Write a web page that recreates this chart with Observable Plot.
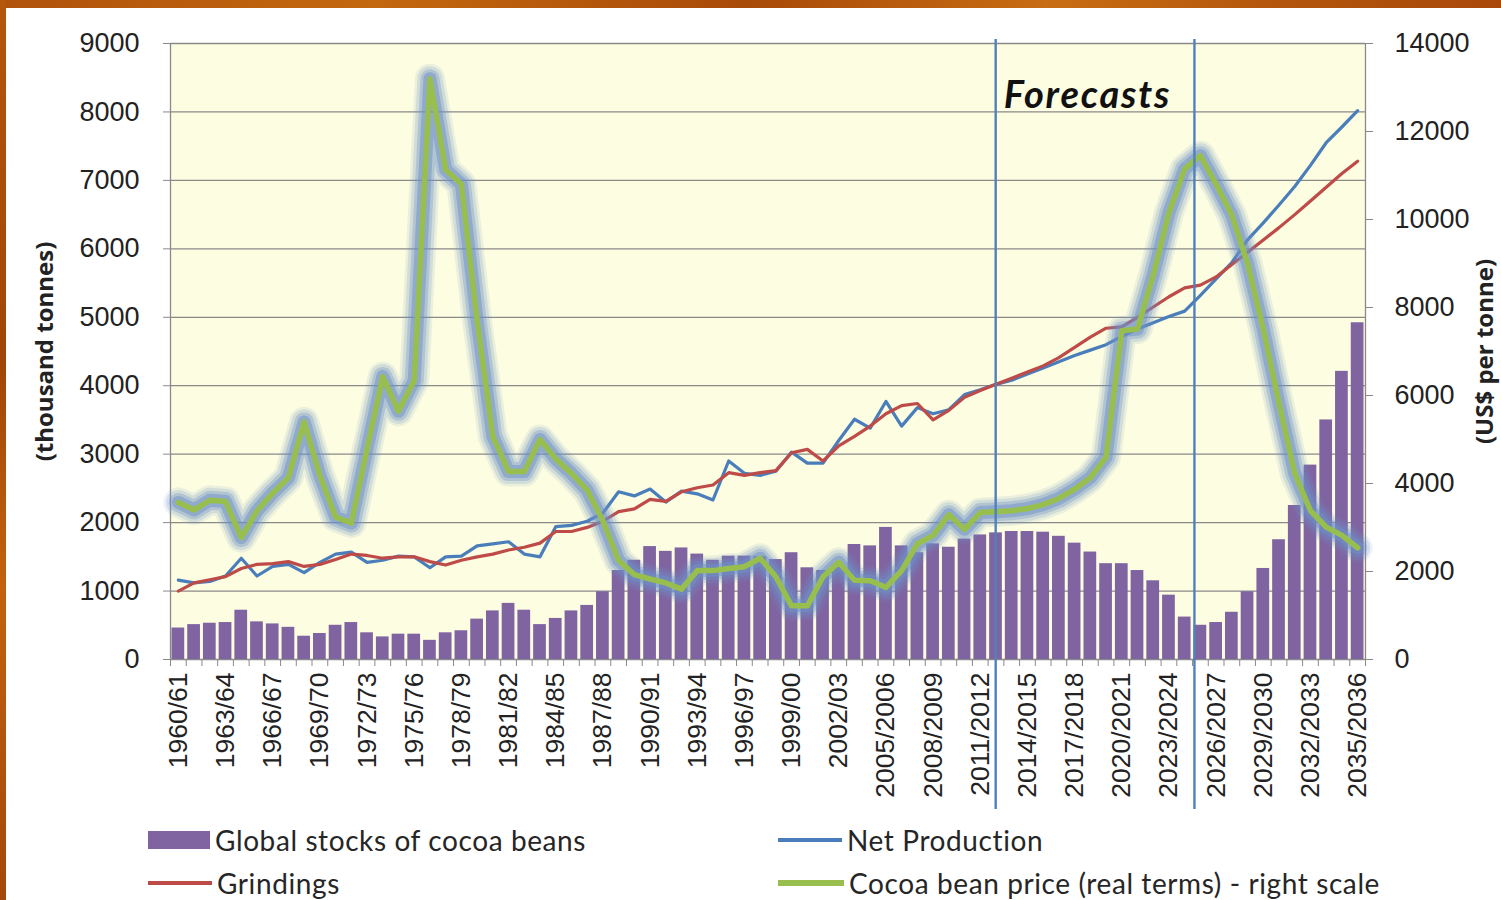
<!DOCTYPE html>
<html>
<head>
<meta charset="utf-8">
<script src="https://cdn.jsdelivr.net/npm/d3@7"></script>
<script src="https://cdn.jsdelivr.net/npm/@observablehq/plot@0.6"></script>
<style>
  html, body { margin: 0; padding: 0; background: #ffffff; }
  body { width: 1501px; height: 900px; position: relative; overflow: hidden; }
  #chart { position: absolute; left: 0; top: 0; }
  #frameTop { position: absolute; left: 0; top: 0; width: 1501px; height: 8px;
    background: linear-gradient(90deg, #b0520b 0%, #c4680f 25%, #a84a08 50%, #c86d13 70%, #b4560c 85%, #a9470a 100%); }
  #frameLeft { position: absolute; left: 0; top: 0; width: 6px; height: 900px;
    background: linear-gradient(180deg, #b5560c 0%, #a14508 40%, #c2620f 65%, #a4470a 100%); }
  .legend { position: absolute; font-family: Lato, "Open Sans", sans-serif; font-size: 28px; letter-spacing: 0.6px; color: #262626;
    display: flex; align-items: center; white-space: nowrap; height: 32px; }
  .legend .sw { display: inline-block; margin-right: 5px; }
</style>
</head>
<body>
<div id="chart"></div>
<div id="frameTop"></div>
<div id="frameLeft"></div>
<div id="legend"></div>
<script>
// ---------------- data ----------------
const categories = [
  "1960/61","1961/62","1962/63","1963/64","1964/65","1965/66","1966/67","1967/68","1968/69","1969/70",
  "1970/71","1971/72","1972/73","1973/74","1974/75","1975/76","1976/77","1977/78","1978/79","1979/80",
  "1980/81","1981/82","1982/83","1983/84","1984/85","1985/86","1986/87","1987/88","1988/89","1989/90",
  "1990/91","1991/92","1992/93","1993/94","1994/95","1995/96","1996/97","1997/98","1998/99","1999/00",
  "2000/01","2001/02","2002/03","2003/04","2004/05","2005/2006","2006/2007","2007/2008","2008/2009","2009/2010",
  "2010/2011","2011/2012","2012/2013","2013/2014","2014/2015","2015/2016","2016/2017","2017/2018","2018/2019","2019/2020",
  "2020/2021","2021/2022","2022/2023","2023/2024","2024/2025","2025/2026","2026/2027","2027/2028","2028/2029","2029/2030",
  "2030/2031","2031/2032","2032/2033","2033/2034","2034/2035","2035/2036"
];

// Global stocks of cocoa beans (thousand tonnes)
const stocks = [
  460, 510, 530, 540, 720, 550, 520, 470, 340, 380,
  500, 540, 390, 330, 370, 370, 280, 390, 420, 590,
  710, 820, 720, 510, 600, 710, 790, 990, 1300, 1450,
  1650, 1580, 1630, 1540, 1450, 1510, 1510, 1500, 1460, 1560,
  1340, 1300, 1380, 1680, 1660, 1930, 1660, 1560, 1690, 1640,
  1760, 1820, 1850, 1870, 1870, 1860, 1800, 1700, 1570, 1400,
  1400, 1300, 1150, 940, 620, 500, 540, 690, 990, 1330,
  1750, 2250, 2840, 3500, 4210, 4920
];

// Net Production (thousand tonnes)
const production = [
  1160, 1120, 1140, 1220, 1480, 1220, 1360, 1390, 1270, 1420,
  1540, 1570, 1420, 1450, 1510, 1500, 1340, 1500, 1510, 1660,
  1690, 1720, 1540, 1500, 1940, 1960, 2020, 2140, 2450, 2390,
  2490, 2300, 2460, 2420, 2330, 2900, 2720, 2690, 2750, 3030,
  2870, 2870, 3200, 3510, 3380, 3770, 3410, 3680, 3590, 3650,
  3870, 3940, 4020, 4080, 4170, 4260, 4350, 4440, 4520, 4600,
  4720, 4830, 4920, 5010, 5090, 5320, 5560, 5800, 6130, 6380,
  6640, 6910, 7220, 7550, 7780, 8020
];

// Grindings (thousand tonnes)
const grindings = [
  1000, 1120, 1165, 1210, 1330, 1390, 1400, 1430, 1360, 1390,
  1460, 1540, 1520, 1480, 1500, 1500, 1430, 1380, 1450, 1500,
  1540, 1600, 1640, 1700, 1870, 1870, 1930, 2020, 2160, 2200,
  2340, 2310, 2450, 2510, 2550, 2730, 2690, 2730, 2760, 3020,
  3070, 2900, 3120, 3260, 3410, 3590, 3710, 3740, 3500, 3640,
  3830, 3930, 4020, 4110, 4200, 4290, 4410, 4560, 4710, 4840,
  4860, 5000, 5150, 5300, 5430, 5470, 5590, 5770, 5950, 6130,
  6310, 6500, 6700, 6900, 7100, 7280
];

// Cocoa bean price, real terms (US$ per tonne) - right scale
const price = [
  3570, 3400, 3620, 3590, 2770, 3380, 3780, 4130, 5400, 4180,
  3240, 3100, 4790, 6430, 5640, 6340, 13200, 11130, 10800, 7700,
  5070, 4270, 4270, 5000, 4560, 4230, 3850, 3150, 2250, 1930,
  1830, 1740, 1600, 2020, 2020, 2070, 2110, 2300, 1880, 1220,
  1220, 1880, 2210, 1800, 1790, 1640, 2020, 2630, 2820, 3290,
  2960, 3340, 3360, 3380, 3430, 3520, 3660, 3870, 4130, 4600,
  7470, 7510, 8740, 10150, 11150, 11450, 10800, 10100, 9000, 7510,
  5820, 4230, 3380, 3010, 2820, 2540
];

const leftTicks = [0, 1000, 2000, 3000, 4000, 5000, 6000, 7000, 8000, 9000];
const rightTicks = [0, 2000, 4000, 6000, 8000, 10000, 12000, 14000];
const labelEvery = 3;
// forecast markers, in category units (index of category, fractional = between bands)
const forecastAt = [51.98, 64.62];
const forecastText = ["Forecasts"];
const leftTitle = ["(thousand tonnes)"];
const rightTitle = ["(US$ per tonne)"];
const legendItems = [
  {label: "Global stocks of cocoa beans", type: "bar", color: "#8064A2"},
  {label: "Net Production", type: "line", color: "#4A7EBB"},
  {label: "Grindings", type: "line", color: "#BE4B48"},
  {label: "Cocoa bean price (real terms) - right scale", type: "thick", color: "#98BF4E"}
];

// ---------------- chart ----------------
const leftMax = 9000, rightMax = 14000;
const k = leftMax / rightMax; // right-scale value -> left-scale units
const n = categories.length;
const idx = d3.range(n);
const data = idx.map(i => ({
  i, cat: categories[i], stocks: stocks[i], prod: production[i], grind: grindings[i], price: price[i] * k
}));
const labelIdx = idx.filter(i => i % labelEvery === 0);
const boundaries = d3.range(n + 1).map(i => i - 0.5);

const numFont = "'Liberation Sans', Arial, sans-serif";
const titleFont = "'Open Sans', Lato, sans-serif";
const gridColor = "#8a8a8a";
const glowColor = "#6D90C8";

const chart = Plot.plot({
  width: 1501,
  height: 820,
  marginLeft: 170,
  marginRight: 136,
  marginTop: 43,
  marginBottom: 161,
  x: {domain: [-0.5, n - 0.5], axis: null, label: null},
  y: {domain: [0, leftMax], axis: null, label: null},
  style: {fontFamily: numFont, background: "transparent", overflow: "visible", color: "#222"},
  marks: [
    Plot.frame({fill: "#FDFDE1", stroke: null}),
    Plot.gridY(leftTicks, {stroke: gridColor, strokeOpacity: 1, strokeWidth: 1.3}),
    Plot.ruleX([-0.5, n - 0.5], {stroke: gridColor, strokeWidth: 1.3}),
    Plot.rectY(data, {x1: d => d.i - 0.5, x2: d => d.i + 0.5, y: "stocks", fill: "#8064A2", insetLeft: 1.5, insetRight: 1.5}),
    Plot.line(data, {x: "i", y: "prod", stroke: "#4A7EBB", strokeWidth: 3.2}),
    Plot.line(data, {x: "i", y: "grind", stroke: "#BE4B48", strokeWidth: 3.2}),
    // soft bluish glow around the price line (stacked translucent strokes)
    Plot.line(data, {x: "i", y: "price", stroke: glowColor, strokeWidth: 30, strokeOpacity: 0.12}),
    Plot.line(data, {x: "i", y: "price", stroke: glowColor, strokeWidth: 25, strokeOpacity: 0.2}),
    Plot.line(data, {x: "i", y: "price", stroke: glowColor, strokeWidth: 19, strokeOpacity: 0.32}),
    Plot.line(data, {x: "i", y: "price", stroke: glowColor, strokeWidth: 13, strokeOpacity: 0.5}),
    Plot.line(data, {x: "i", y: "price", stroke: "#98BF4E", strokeWidth: 5.5}),
    Plot.ruleX(forecastAt, {stroke: "#4F81BD", strokeWidth: 2.4, insetTop: -4, insetBottom: -150}),
    Plot.text(forecastText, {x: forecastAt[0], y: leftMax, dx: 8, dy: 52, textAnchor: "start",
      fontSize: 38, fontWeight: "bold", fontStyle: "italic", fontFamily: "Lato, 'Open Sans', sans-serif", fill: "#111"}),
    // left axis
    Plot.axisY(leftTicks, {anchor: "left", label: null, tickSize: 7, tickPadding: 24, fontSize: 27,
      tickFormat: v => String(v), stroke: gridColor, fill: "#222"}),
    // right axis (price scale)
    Plot.axisY(rightTicks.map(v => v * k), {anchor: "right", label: null, tickSize: 7, tickPadding: 22, fontSize: 27,
      tickFormat: v => String(Math.round(v / k)), stroke: gridColor, fill: "#222"}),
    // x tick marks between categories
    Plot.axisX(boundaries, {anchor: "bottom", label: null, tickSize: 7, tickFormat: () => "", stroke: gridColor}),
    // x labels
    Plot.axisX(labelIdx, {anchor: "bottom", label: null, tickSize: 0, tickPadding: 13, tickRotate: -90, fontSize: 26.5,
      tickFormat: i => categories[i], fill: "#222"}),
    // axis titles
    Plot.text(leftTitle, {frameAnchor: "left", textAnchor: "middle", dx: -125, rotate: -90, fontSize: 24, fontWeight: "bold", fontFamily: titleFont, fill: "#222"}),
    Plot.text(rightTitle, {frameAnchor: "right", textAnchor: "middle", dx: 120, rotate: -90, fontSize: 24, fontWeight: "bold", fontFamily: titleFont, fill: "#222"})
  ]
});
document.getElementById("chart").appendChild(chart);
chart.querySelectorAll("text").forEach(t => {
  if (t.textContent === forecastText[0]) t.style.letterSpacing = "1.8px";
});

// ---------------- legend (HTML, below the svg) ----------------
const legend = document.getElementById("legend");
const positions = [[148, 824], [778, 824], [148, 867], [778, 867]];
legendItems.forEach((item, j) => {
  const div = document.createElement("div");
  div.className = "legend";
  div.style.left = positions[j][0] + "px";
  div.style.top = positions[j][1] + "px";
  const sw = document.createElement("span");
  sw.className = "sw";
  sw.style.background = item.color;
  if (item.type === "bar") { sw.style.width = "62px"; sw.style.height = "18px"; }
  else if (item.type === "line") { sw.style.width = "64px"; sw.style.height = "4px"; }
  else { sw.style.width = "66px"; sw.style.height = "6px"; }
  div.appendChild(sw);
  const t = document.createElement("span");
  t.textContent = item.label;
  div.appendChild(t);
  legend.appendChild(div);
});
</script>
</body>
</html>
